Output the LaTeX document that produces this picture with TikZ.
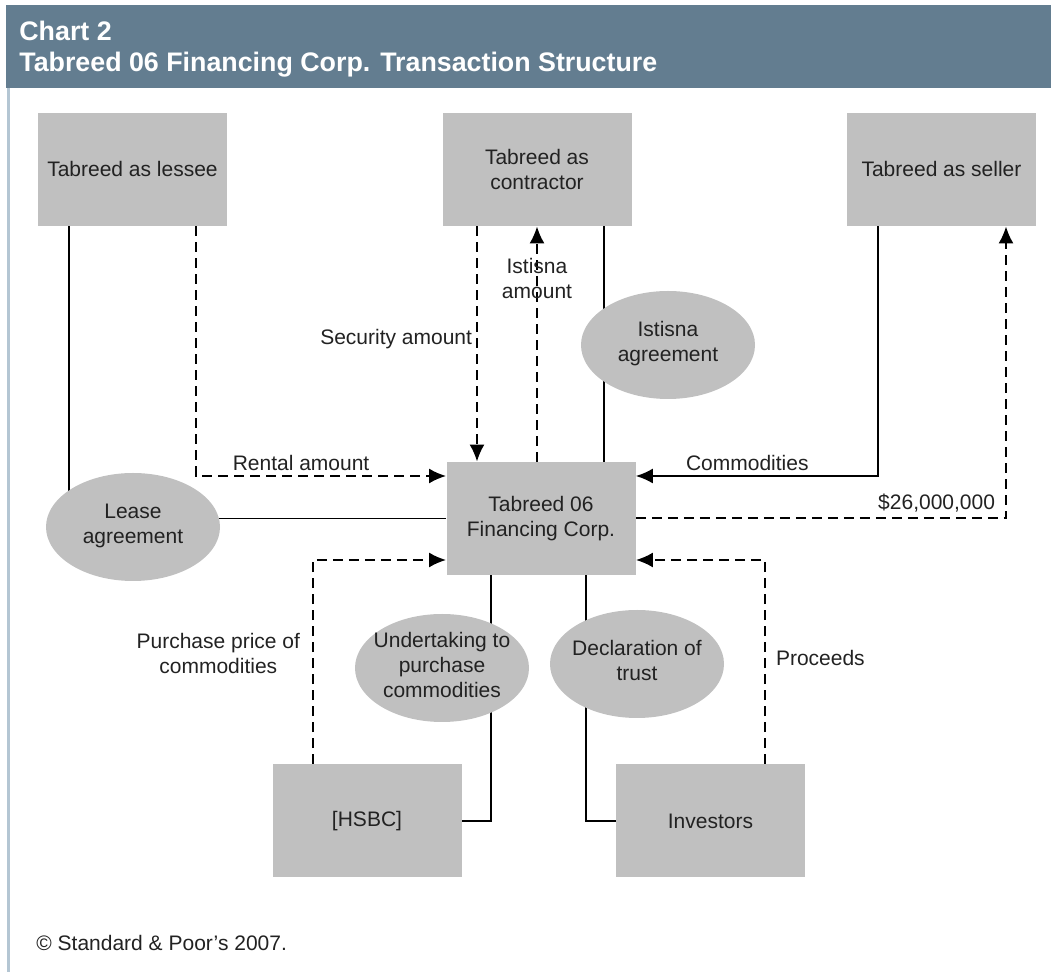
\documentclass[tikz,border=0pt]{standalone}
\usepackage{fontspec}
\setmainfont{Liberation Sans}
\usetikzlibrary{arrows.meta,shapes.geometric,backgrounds}
\definecolor{headblue}{HTML}{637D90}
\definecolor{edgeblue}{HTML}{B4C6D3}
\definecolor{boxgray}{HTML}{C0C0C0}
\definecolor{inkgray}{HTML}{222222}
\newcommand{\inellipse}[1]{\raisebox{-4.8pt}{\smash{\makebox[0pt]{\begin{tabular}{@{}c@{}}#1\end{tabular}}}}}
\tikzset{
    party/.style={rectangle,fill=boxgray,minimum width=94.5pt,minimum height=56.5pt,inner sep=0pt,align=center},
    deal/.style={ellipse,fill=boxgray,minimum width=87pt,minimum height=54pt,inner sep=0pt},
    flow/.style={line width=1pt,dash pattern=on 5pt off 3pt},
    link/.style={line width=0.8pt},
    tag/.style={align=center,inner sep=2pt}
}
\begin{document}
\begin{tikzpicture}[x=0.5pt,y=-0.5pt,>={Latex[length=8.5pt,width=7.5pt]},
    font=\fontsize{10.5}{12.5}\selectfont,text=inkgray]
\useasboundingbox (0,0) rectangle (1051,972);
% header and frame
\fill[headblue] (6,5) rectangle (1051,88);
\draw[edgeblue,line width=1.5pt] (8,88)--(8,972);
\node[anchor=base west,text=white,font=\fontsize{13.4}{15}\bfseries\selectfont,inner sep=0pt] (chart) at (19,41) {Chart 2};
\node[anchor=base west,text=white,font=\fontsize{13.4}{15}\bfseries\selectfont,inner sep=0pt] (title) at (19,72) {Tabreed 06 Financing Corp. Transaction Structure};
% parties
\node[party] (lessee) at (132.5,169.5) {Tabreed as lessee};
\node[party] (contractor) at (537,169.5) {Tabreed as\\contractor};
\node[party] (seller) at (941.5,169.5) {Tabreed as seller};
\node[party] (corp) at (541,518.5) {Tabreed 06\\Financing Corp.};
\node[party] (hsbc) at (367,821) {[HSBC]};
\node[party] (investors) at (710.5,821) {Investors};
% agreements
\node[deal] (lease) at (133,527) {\inellipse{Lease\\agreement}};
\node[deal] (istisna) at (668,345) {\inellipse{Istisna\\agreement}};
\node[deal] (undertaking) at (442,668) {\inellipse{Undertaking to\\purchase\\commodities}};
\node[deal] (trust) at (637,664) {\inellipse{Declaration of\\trust}};
\begin{scope}[on background layer]
    % top row
    \draw[link] ([xshift=-31.75pt]lessee.south)--([xshift=-31.75pt]lessee.south |- lease.center);
    \draw[link] (corp.west)--(corp.west -| lease.center);
    \draw[flow,->] ([xshift=31.75pt]lessee.south) |- ([yshift=21.25pt]corp.west)
        node[pos=0.71,above,tag]{Rental amount};
    \draw[flow,->] ([xshift=-30pt]contractor.south)--([xshift=-30pt]contractor.south |- corp.north)
        node[pos=0.48,left,tag]{Security amount};
    \draw[flow,->] (corp.north -| contractor.south)--(contractor.south)
        node[pos=0.78,tag]{Istisna\\amount};
    \draw[link] ([xshift=33.5pt]contractor.south)--([xshift=33.5pt]contractor.south |- corp.north);
    \draw[link,->] ([xshift=-31.75pt]seller.south) |- ([yshift=21.25pt]corp.east)
        node[pos=0.77,above,tag]{Commodities};
    \draw[flow,->] (corp.east) -| ([xshift=32.25pt]seller.south)
        node[pos=0.5,anchor=south east,inner sep=0pt,xshift=-5pt,yshift=2.5pt]{\$26,000,000};
    % bottom row
    \draw[flow,->] ([xshift=-27pt]hsbc.north) |- ([yshift=-20.75pt]corp.west)
        node[pos=0.27,left=4pt,tag]{Purchase price of\\commodities};
    \draw[link] ([xshift=-25pt]corp.south) |- (hsbc.east);
    \draw[link] ([xshift=22.5pt]corp.south) |- (investors.west);
    \draw[flow,->] ([xshift=27.25pt]investors.north) |- ([yshift=-20.75pt]corp.east)
        node[pos=0.26,right=3pt,tag]{Proceeds};
\end{scope}
\node[anchor=base west,inner sep=0pt] (source) at (36,951) {© Standard \& Poor’s 2007.};
\end{tikzpicture}
\end{document}
